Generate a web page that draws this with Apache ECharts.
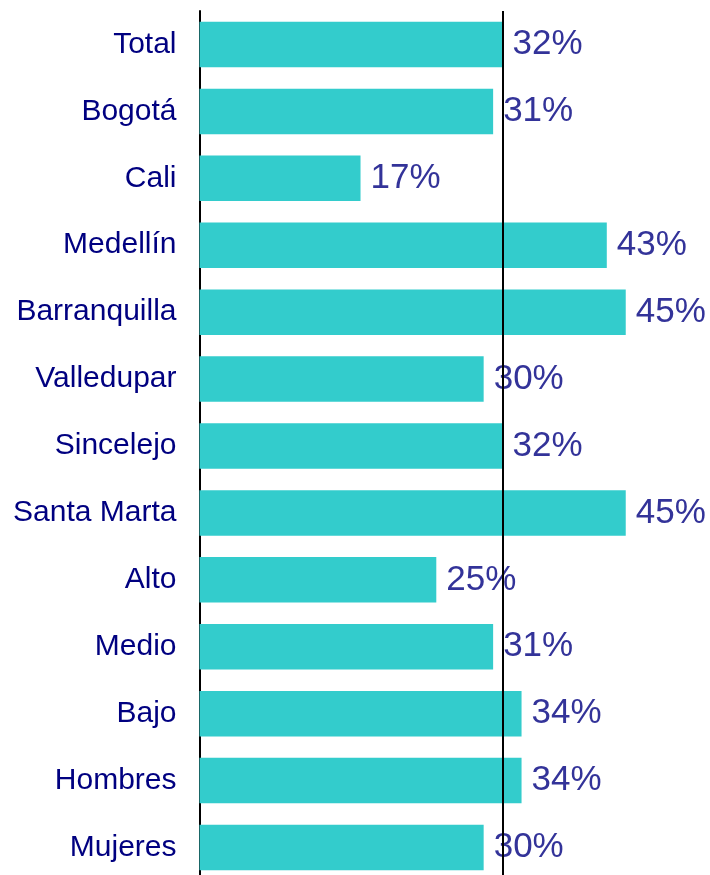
<!DOCTYPE html>
<html>
<head>
<meta charset="utf-8">
<script src="https://cdn.jsdelivr.net/npm/echarts@6/dist/echarts.min.js"></script>
<style>
html, body { margin: 0; padding: 0; background: #fff; overflow: hidden; }
#chart { width: 710px; height: 900px; }
</style>
</head>
<body>
<div id="chart"></div>
<script>
// categorias de arriba hacia abajo
var categorias = ['Total', 'Bogotá', 'Cali', 'Medellín', 'Barranquilla', 'Valledupar',
    'Sincelejo', 'Santa Marta', 'Alto', 'Medio', 'Bajo', 'Hombres', 'Mujeres'];
var valores = [32, 31, 17, 43, 45, 30, 32, 45, 25, 31, 34, 34, 30];
var lineaTotal = 32;

var myChart = echarts.init(document.getElementById('chart'));

var option = {
    animation: false,
    grid: {
        left: 199.5,
        top: 11,
        width: 473.6,
        height: 870
    },
    xAxis: {
        type: 'value',
        min: 0,
        max: 50,
        show: false
    },
    yAxis: {
        type: 'category',
        inverse: true,
        data: categorias,
        axisLine: { show: true, lineStyle: { color: '#000', width: 2 } },
        axisTick: { show: false },
        axisLabel: {
            margin: 23,
            color: '#000080',
            fontSize: 30,
            padding: [3, 0, 0, 0],
            fontFamily: 'Liberation Sans, Arial, sans-serif'
        }
    },
    series: [
        {
            type: 'bar',
            data: valores,
            barCategoryGap: '32%',
            itemStyle: { color: '#33CCCC' },
            label: {
                show: true,
                position: 'right',
                distance: 10,
                formatter: '{c}%',
                color: '#333399',
                fontSize: 35,
                padding: [4, 0, 0, 0],
                fontFamily: 'Liberation Sans, Arial, sans-serif'
            },
            markLine: {
                silent: true,
                symbol: 'none',
                label: { show: false },
                lineStyle: { color: '#000', width: 2, type: 'solid' },
                data: [{ xAxis: lineaTotal }]
            }
        }
    ]
};

myChart.setOption(option);
</script>
</body>
</html>
